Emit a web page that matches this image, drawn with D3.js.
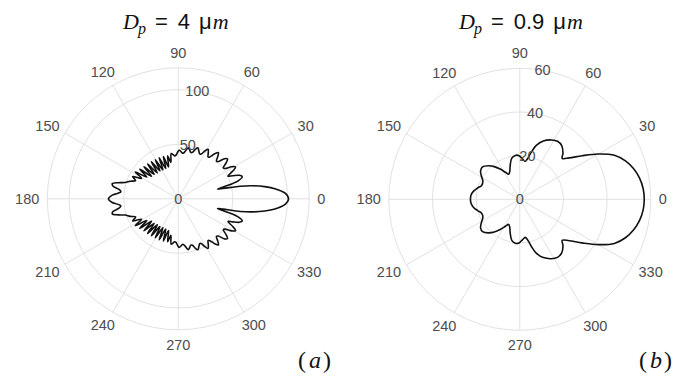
<!DOCTYPE html>
<html><head><meta charset="utf-8">
<script src="https://cdn.jsdelivr.net/npm/d3@7"></script>
<style>
html,body{margin:0;padding:0;background:#fff;}
svg{display:block;}
</style></head>
<body>
<svg id="chart" width="683" height="377"></svg>
<script>
// ---- data (0..180 deg, mirrored for 180..360) ----
const angleTicks = [0,30,60,90,120,150,180,210,240,270,300,330];

const rTicksA = [0,50,100];
const rMaxA = 120;
const thetaA = [0,3,6,8,10,11.5,13,14,15.5,17,19,21,23,24.5,27,29,31,33,34.5,37,39,41,43,44.5,47,49,51,53,54.5,57,59,61,63,64.5,67,69,71,73,75,77,79,81,83,85,87,89,91,93,95,97,99,101.5,104,107,109.5,112.5,115,118,120.5,123.5,126,129,131.5,134.5,137,140,142.5,145.5,148,151,154,157,160,163,165,167,169,171,173,175,177,180];
const radiusA = [101,98,89,80,69,58,42,37,50,58,62,60,54,50,56,60,57,51,50,55,58,56,50,49,53,56,53,48,47,50.5,53,50,46,45.5,48,50,48,44.5,44,46,47.5,45,42.5,42,43.5,44.5,42.5,40,39.5,41,42,34,40.5,30.5,41,30,41.5,30,41.5,30.5,42,30.5,42.5,31.5,43,32,44.5,35,46.5,38.5,46.5,42.5,47,51,57,62,61,55,53,56,61,64];

const rTicksB = [0,20,40,60];
const rMaxB = 60;
const thetaB = [0,5,10,15,20,25,30,35,40,44,47,52,57,62,68,73,76,79,82,86,91,96,101,106,110,114,118,123,128,133,139,144,149,154,160,165,170,175,180];
const radiusB = [57,56.7,55.7,54,51.5,47.8,41.5,34.8,29.5,27,29,31.2,31.7,30.8,28.8,25.8,22.5,19,17.6,18.5,20,20.2,19.2,16,13.5,12.6,14,16.5,19,21,22.6,22.2,20.5,18.8,18.6,20,21.5,22.4,22.6];

const diameters = ["4","0.9"];
const panelLabels = ["a","b"];

// ---- drawing ----
const svg = d3.select("#chart");
const R = 131;
const panels = [
  {cx:178.3, cy:198.8, theta:thetaA, radius:radiusA, ticks:rTicksA, rmax:rMaxA, num:diameters[0], lab:panelLabels[0], tx:123, lx:298},
  {cx:519.8, cy:199.3, theta:thetaB, radius:radiusB, ticks:rTicksB, rmax:rMaxB, num:diameters[1], lab:panelLabels[1], tx:459, lx:639}
];
const gridColor = "#dedede";
const textColor = "#4d4d4d";
const rad = d => d*Math.PI/180;

panels.forEach(p => {
  const g = svg.append("g").attr("transform", `translate(${p.cx},${p.cy})`);
  const r = d3.scaleLinear().domain([0, p.rmax]).range([0, R]);

  // spokes
  g.selectAll("line.spoke").data(angleTicks).enter().append("line")
    .attr("x1",0).attr("y1",0)
    .attr("x2", d => R*Math.cos(rad(d))).attr("y2", d => -R*Math.sin(rad(d)))
    .attr("stroke", gridColor).attr("stroke-width", 0.9);
  // rings
  const ringVals = p.ticks.filter(v => v>0).concat(p.ticks[p.ticks.length-1] < p.rmax ? [p.rmax] : []);
  g.selectAll("circle.ring").data(ringVals).enter().append("circle")
    .attr("r", d => r(d)).attr("fill","none")
    .attr("stroke", gridColor).attr("stroke-width", 0.9);

  // curve
  const full = [];
  p.theta.forEach((t,i) => full.push([t, p.radius[i]]));
  for (let i = p.theta.length-2; i > 0; i--) full.push([360 - p.theta[i], p.radius[i]]);
  const line = d3.lineRadial()
    .angle(d => rad(90 - d[0]))
    .radius(d => r(d[1]))
    .curve(d3.curveCatmullRomClosed.alpha(0.5));
  g.append("path").attr("d", line(full))
    .attr("fill","none").attr("stroke","#111").attr("stroke-width",1.6)
    .attr("stroke-linejoin","round");

  // angle labels
  const fs = 14.5;
  angleTicks.forEach(a => {
    const txt = String(a);
    const w = txt.length * fs * 0.556;
    const h = fs*0.95;
    const gap = 8;
    const c = Math.cos(rad(a)), s = Math.sin(rad(a));
    const x = (R+gap)*c + c*w/2;
    const y = -((R+gap)*s + s*h/2);
    g.append("text").attr("x", x).attr("y", y)
      .attr("text-anchor","middle").attr("dominant-baseline","central")
      .attr("font-family","'Liberation Sans', Arial, sans-serif")
      .attr("font-size", fs).attr("fill", textColor).text(txt);
  });
  // radial tick labels at 80 deg
  p.ticks.forEach(v => {
    const x = r(v)*Math.cos(rad(80)), y = -r(v)*Math.sin(rad(80));
    g.append("text").attr("x", x).attr("y", y)
      .attr("text-anchor","middle").attr("dominant-baseline","central")
      .attr("font-family","'Liberation Sans', Arial, sans-serif")
      .attr("font-size", fs).attr("fill", textColor).text(v);
  });

  // title
  const t = svg.append("text").attr("x", p.tx).attr("y", 29)
    .attr("text-anchor","start").attr("font-size", 22).attr("fill","#111");
  t.append("tspan").attr("font-family","'Liberation Serif', serif").attr("font-style","italic").text("D");
  t.append("tspan").attr("font-family","'Liberation Serif', serif").attr("font-style","italic")
    .attr("font-size", 16).attr("dy", 5).attr("dx", -1).text("p");
  t.append("tspan").attr("font-family","'Liberation Sans', sans-serif").attr("dy", -5).attr("dx", 9).text("=");
  t.append("tspan").attr("font-family","'Liberation Sans', sans-serif").attr("dx", 10).text(p.num);
  t.append("tspan").attr("font-family","'Liberation Sans', sans-serif").attr("dx", 9).text("μ");
  t.append("tspan").attr("font-family","'Liberation Serif', serif").attr("font-style","italic").attr("dx", 1).text("m");

  // panel label
  const pl = svg.append("text").attr("x", p.lx).attr("y", 368)
    .attr("text-anchor","start").attr("font-size", 24).attr("fill","#111")
    .attr("font-family","'Liberation Serif', serif");
  pl.append("tspan").text("(");
  pl.append("tspan").attr("font-style","italic").attr("dx", 3).text(p.lab);
  pl.append("tspan").attr("dx", 2).text(")");
});
</script>
</body></html>
